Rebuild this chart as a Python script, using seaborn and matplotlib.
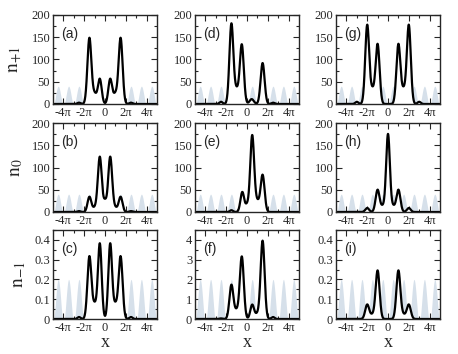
import numpy as np
import pandas as pd
import matplotlib
matplotlib.use("Agg")
import matplotlib.pyplot as plt
import seaborn as sns
from matplotlib.ticker import MultipleLocator, FixedLocator

# density peaks: (centre in units of pi, height, width in units of pi)
peaks_a = [(-1.5, 148, 0.19), (-0.5, 56, 0.18), (0.5, 56, 0.18), (1.5, 148, 0.19),
           (-1.0, 22, 0.2), (1.0, 22, 0.2), (-2.5, 3, 0.15), (2.5, 3, 0.15)]
peaks_b = [(-0.5, 124, 0.19), (0.5, 124, 0.19), (-1.5, 34, 0.18), (1.5, 34, 0.18),
           (0.0, 22, 0.15), (-1.0, 9, 0.2), (1.0, 9, 0.2), (-2.5, 2, 0.15), (2.5, 2, 0.15)]
peaks_c = [(-1.5, 0.315, 0.19), (-0.5, 0.38, 0.18), (0.5, 0.38, 0.18), (1.5, 0.315, 0.19),
           (-1.0, 0.07, 0.2), (1.0, 0.07, 0.2), (-2.5, 0.01, 0.15), (2.5, 0.01, 0.15)]
peaks_d = [(-1.5, 180, 0.19), (-0.5, 133, 0.19), (1.5, 92, 0.19), (-1.0, 30, 0.2),
           (0.45, 11, 0.2), (-2.5, 5, 0.15), (2.5, 3, 0.15)]
peaks_e = [(-0.45, 45, 0.18), (0.5, 172, 0.19), (1.5, 83, 0.19), (0.0, 14, 0.15),
           (1.0, 22, 0.2), (-1.5, 4, 0.15)]
peaks_f = [(-1.5, 1.72, 0.19), (-0.5, 3.15, 0.19), (0.5, 0.72, 0.18), (1.5, 3.95, 0.19),
           (-1.0, 0.4, 0.2), (1.0, 0.25, 0.2), (-2.5, 0.03, 0.15), (2.5, 0.1, 0.15)]
peaks_g = [(-2.0, 177, 0.19), (-1.0, 134, 0.19), (1.0, 134, 0.19), (2.0, 177, 0.19),
           (-1.5, 30, 0.2), (1.5, 30, 0.2), (-3.0, 5, 0.15), (3.0, 5, 0.15)]
peaks_h = [(0.0, 175, 0.18), (-1.0, 50, 0.19), (1.0, 50, 0.19), (-0.5, 12, 0.18),
           (0.5, 12, 0.18), (-2.0, 9, 0.18), (2.0, 9, 0.18)]
peaks_i = [(-1.0, 0.245, 0.19), (1.0, 0.245, 0.19), (-2.0, 0.073, 0.19), (2.0, 0.073, 0.19),
           (-1.5, 0.02, 0.2), (1.5, 0.02, 0.2)]

panel_peaks = [[peaks_a, peaks_b, peaks_c], [peaks_d, peaks_e, peaks_f], [peaks_g, peaks_h, peaks_i]]
panel_letters = [["(a)", "(b)", "(c)"], ["(d)", "(e)", "(f)"], ["(g)", "(h)", "(i)"]]
row_ymax = [[200, 200, 0.45], [200, 200, 4.5], [200, 200, 0.45]]
lattice_height = [[40, 40, 0.2], [40, 40, 2.0], [40, 40, 0.2]]
row_ylabels = [r"$\mathrm{n}_{+1}$", r"$\mathrm{n}_{0}$", r"$\mathrm{n}_{-1}$"]
xtick_pos = [-4, -2, 0, 2, 4]
xtick_labels = ["-4π", "-2π", "0", "2π", "4π"]

sns.set_style("ticks")
plt.rcParams["font.family"] = ["Liberation Serif", "DejaVu Serif"]
plt.rcParams["mathtext.fontset"] = "stix"

W, H = 458, 354
fig = plt.figure(figsize=(W / 100, H / 100), dpi=100)
col_left = [53, 195, 336]
row_top = [15, 123, 230]
ax_w, ax_h = 104, 89

x = np.linspace(-5 * np.pi, 5 * np.pi, 1500)
s2 = np.sin(x) ** 2
lattice_shape = np.clip((s2 - 0.08) / 0.92, 0, None)

for c in range(3):
    for r in range(3):
        ax = fig.add_axes([col_left[c] / W, 1 - (row_top[r] + ax_h) / H, ax_w / W, ax_h / H])
        dens = np.zeros_like(x)
        for cen, h, w in panel_peaks[c][r]:
            dens += h * np.exp(-0.5 * ((x / np.pi - cen) / w) ** 2)
        ax.fill_between(x, lattice_height[c][r] * lattice_shape, color="#d6e0ea", lw=0)
        ax.fill_between(x, dens, color="white", lw=0)
        df = pd.DataFrame({"x": x, "n": dens})
        sns.lineplot(data=df, x="x", y="n", ax=ax, color="black", lw=1.6)
        ax.set_xlim(-5 * np.pi, 5 * np.pi)
        ax.set_ylim(0, row_ymax[c][r])
        ax.xaxis.set_major_locator(FixedLocator([p * np.pi for p in xtick_pos]))
        ax.xaxis.set_minor_locator(FixedLocator([p * np.pi for p in [-3, -1, 1, 3]]))
        ax.set_xticklabels(xtick_labels)
        if row_ymax[c][r] == 200:
            ax.yaxis.set_major_locator(MultipleLocator(50))
            ax.yaxis.set_minor_locator(MultipleLocator(25))
        elif row_ymax[c][r] < 1:
            ax.yaxis.set_minor_locator(MultipleLocator(0.05))
            ax.set_yticks([0, 0.1, 0.2, 0.3, 0.4])
            ax.set_yticklabels(["0", "0.1", "0.2", "0.3", "0.4"])
        else:
            ax.yaxis.set_minor_locator(MultipleLocator(0.5))
            ax.set_yticks([0, 1, 2, 3, 4])
        ax.tick_params(which="both", direction="in", top=True, right=True, labelsize=9,
                       width=0.8, pad=2)
        ax.tick_params(which="major", length=4)
        ax.tick_params(which="minor", length=2)
        for sp in ax.spines.values():
            sp.set_linewidth(1.0)
            sp.set_visible(True)
        ax.set_xlabel("x" if r == 2 else "", fontsize=13, labelpad=0)
        ax.set_ylabel(row_ylabels[r] if c == 0 else "", fontsize=14, labelpad=5)
        ax.text(0.08, 0.87, panel_letters[c][r], transform=ax.transAxes, va="top", ha="left",
                fontsize=10, family=["Liberation Sans", "DejaVu Sans"])

fig.savefig("out.png", dpi=100)
